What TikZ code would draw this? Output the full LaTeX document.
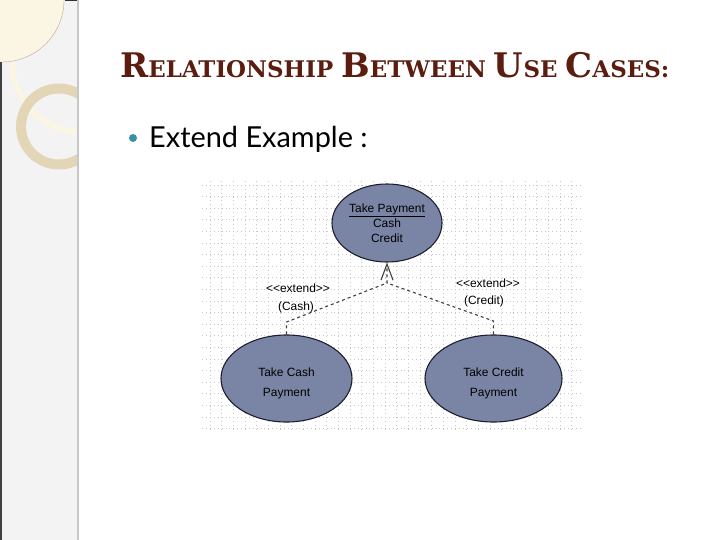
\documentclass[tikz,border=0pt]{standalone}
\usepackage{fontspec}
\setmainfont{Liberation Sans}
\newfontfamily\titlefont{DejaVu Serif}
\newfontfamily\bodyfont{Lato}
\usepackage{tikz}
\usetikzlibrary{positioning,arrows.meta,calc,shapes.geometric}
\usepackage{xcolor}
\definecolor{ucfill}{RGB}{122,133,166}
\definecolor{ucline}{RGB}{28,30,48}
\definecolor{titlebrown}{RGB}{91,29,15}
\definecolor{bullteal}{RGB}{61,143,168}
\definecolor{panelgray}{RGB}{243,243,243}
\definecolor{ringtan}{RGB}{226,214,182}
\definecolor{creamy}{RGB}{251,246,228}
\definecolor{gridgray}{RGB}{200,200,200}
\newcommand{\bigsc}[1]{{\fontsize{34}{34}\selectfont #1}}
\newcommand{\ucstack}[2]{\raisebox{-5bp}[\height][\depth]{\begin{tabular}{@{}c@{}}#1\\[5bp]#2\end{tabular}}}

\begin{document}
\begin{tikzpicture}[
  x=1bp, y=-1bp,
  >=Stealth,
  usecase/.style={ellipse, draw=ucline, line width=1.1pt, fill=ucfill, inner sep=0pt, align=center,
                  font=\fontsize{12}{15}\selectfont},
  extline/.style={draw=black!75, line width=1.1pt, dash pattern=on 3bp off 3bp},
  lbl/.style={inner sep=0pt, font=\fontsize{12}{14}\selectfont},
  hdot/.style={gridgray, line width=0.8bp, dash pattern=on 0.8bp off 3.09bp},
  vdot/.style={gridgray, line width=0.8bp, dash pattern=on 0.8bp off 3.07bp},
]
\useasboundingbox (0,0) rectangle (720,540);

% side panel
\fill[panelgray] (0,0) rectangle (78,540);
\begin{scope}
  \clip (0,0) rectangle (77,540);
  \draw[creamy, line width=6bp] (82,62) circle[radius=70bp];
  \fill[creamy] (2,0) circle[radius=62bp];
  \draw[ringtan!80!black, line width=0.4bp] (2,0) circle[radius=62bp];
  \draw[ringtan, line width=10bp] (59,126.5) circle[radius=38bp];
\end{scope}
\draw[black!22, line width=2bp] (78,0) -- (78,540);
\fill[black!75] (0,62) rectangle (1.5,540);
\fill[black!80] (65,0) rectangle (77,1.5);

% heading and bullet
\node[anchor=base west, inner sep=0pt, text=titlebrown, font=\titlefont\bfseries\fontsize{23}{23}\selectfont] (title) at (120,78)
  {\bigsc{R}ELATIONSHIP \bigsc{B}ETWEEN \bigsc{U}SE \bigsc{C}ASES:};
\node[circle, fill=bullteal, minimum size=8bp, inner sep=0pt] (dot) at (133,138) {};
\node[anchor=base west, inner sep=0pt, font=\bodyfont\fontsize{29}{29}\selectfont] (bullet) at (149,148) {Extend Example :};

% dotted grid
\fill[white] (203,180) rectangle (580,432);
\foreach \k in {0,...,21}
  \draw[hdot] (202.2,185+\k*11.6) -- (580,185+\k*11.6);
\foreach \k in {0,...,31}
  \draw[vdot] (210+\k*11.67,181.1) -- (210+\k*11.67,432);

% use cases
\node[usecase, minimum width=110bp, minimum height=78bp] (tp) at (387,223)
  {\underline{Take Payment}\\Cash\\Credit};
\node[usecase, minimum width=131bp, minimum height=87bp] (cashpay) at (286.5,378.5)
  {\ucstack{Take Cash}{Payment}};
\node[usecase, minimum width=137bp, minimum height=87bp] (creditpay) at (493.5,378.5)
  {\ucstack{Take Credit}{Payment}};

% extend links
\coordinate (join) at (387,283);
\coordinate (cashbend) at (286.5,322);
\coordinate (creditbend) at (493.5,321);
\draw[extline, -{Straight Barb[length=16bp, width=12bp, line width=1.1pt]}]
  (cashpay.north) -- (cashbend) -- (join) -- (tp.south);
\draw[extline] (creditpay.north) -- (creditbend) -- (join);

% labels
\node[lbl] (cashst) at (298,288) {<{}<extend>{}>};
\node[lbl] (cashcond) at (296,307) {(Cash)};
\node[lbl] (creditst) at (488,283) {<{}<extend>{}>};
\node[lbl] (creditcond) at (484,301) {(Credit)};

\end{tikzpicture}
\end{document}
